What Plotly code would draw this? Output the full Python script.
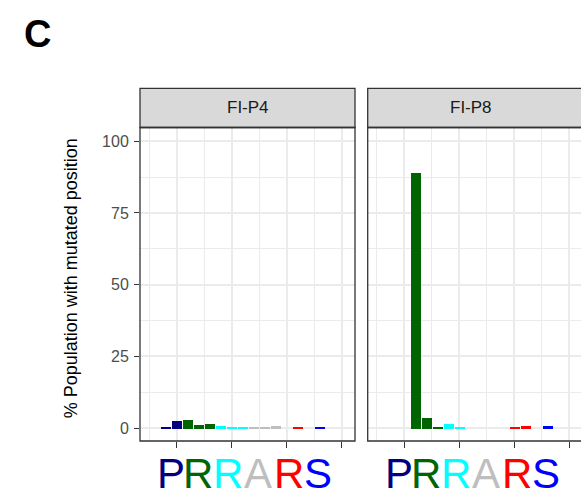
import plotly.graph_objects as go

# ---- data -------------------------------------------------------------
positions = list(range(1, 17))
pos_colors = (["#000080"] * 2 + ["#006400"] * 3 + ["#00FFFF"] * 3 +
              ["#BEBEBE"] * 3 + ["#FF0000"] * 2 + ["#0000FF"] * 3)

panels = ["FI-P4", "FI-P8"]
pct_p4 = [0.35, 2.55, 2.9, 1.4, 1.75, 1.05, 0.7, 0.35, 0.35, 0.35, 1.05, 0, 0.45, 0, 0.45, 0]
pct_p8 = [0, 0, 89.2, 3.7, 0.6, 1.7, 0.35, 0, 0, 0, 0, 0.4, 1.0, 0, 1.0, 0]

logo_letters = ["P", "R", "R", "A", "R", "S"]
logo_colors = ["#000080", "#006400", "#00FFFF", "#BEBEBE", "#FF0000", "#0000FF"]
logo_pos = [1.5, 3.95, 6.65, 9.4, 12.2, 14.85]

y_ticks = [0, 25, 50, 75, 100]
x_ticks = [2, 7, 12, 17]

# ---- geometry (pixels) ------------------------------------------------
W, H = 581, 498
px = lambda v: v / W
py = lambda v: 1 - v / H
FONT = "Arial, Liberation Sans, sans-serif"
GRID = "#EBEBEB"
DARK = "#333333"

panel_x = [(140, 355), (367.7, 581)]
plot_top, plot_bot = 127.5, 441
strip_top = 88.3

fig = go.Figure()
series = [pct_p4, pct_p8]
for i, vals in enumerate(series):
    fig.add_trace(go.Bar(
        x=positions, y=vals, width=0.9,
        marker=dict(color=pos_colors, line=dict(width=0)),
        xaxis="x" if i == 0 else "x2",
        yaxis="y" if i == 0 else "y2",
        showlegend=False, hoverinfo="x+y",
    ))

xcommon = dict(
    range=[-1.34, 18.2], tickvals=x_ticks, ticks="outside", ticklen=6,
    tickwidth=1.1, tickcolor=DARK, showticklabels=False,
    showgrid=True, gridcolor=GRID, gridwidth=1.5, zeroline=False,
    showline=False, fixedrange=True,
    minor=dict(tickvals=[-0.5, 4.5, 9.5, 14.5], showgrid=True,
               gridcolor=GRID, gridwidth=0.8, ticks=""),
)
ycommon = dict(
    range=[-4.5, 104.8], tickvals=y_ticks, showgrid=True, gridcolor=GRID,
    gridwidth=1.5, zeroline=False, showline=False, fixedrange=True,
    minor=dict(tickvals=[12.5, 37.5, 62.5, 87.5], showgrid=True,
               gridcolor=GRID, gridwidth=0.8, ticks=""),
    domain=[py(plot_bot), py(plot_top)],
)

fig.update_layout(
    width=W, height=H, margin=dict(l=0, r=0, t=0, b=0),
    paper_bgcolor="white", plot_bgcolor="white",
    bargap=0,
    xaxis=dict(xcommon, domain=[px(panel_x[0][0]), px(panel_x[0][1])], anchor="y"),
    xaxis2=dict(xcommon, range=[-1.34, 18.05],
                domain=[px(panel_x[1][0]), 1], anchor="y2"),
    yaxis=dict(ycommon, anchor="x", ticks="outside", ticklen=5, tickwidth=1.1,
               tickcolor=DARK, ticklabelstandoff=2,
               tickfont=dict(family=FONT, size=16, color="#4D4D4D")),
    yaxis2=dict(ycommon, anchor="x2", showticklabels=False, ticks=""),
)

shapes = []
annotations = []
for i, (x0, x1) in enumerate(panel_x):
    x1e = x1 if i == 0 else W + 5
    # strip
    shapes.append(dict(type="rect", xref="paper", yref="paper",
                       x0=px(x0), x1=px(x1e), y0=py(plot_top), y1=py(strip_top),
                       fillcolor="#D9D9D9", line=dict(color=DARK, width=1.3),
                       layer="above"))
    # panel border
    shapes.append(dict(type="rect", xref="paper", yref="paper",
                       x0=px(x0), x1=px(x1e), y0=py(plot_bot), y1=py(plot_top),
                       fillcolor="rgba(0,0,0,0)", line=dict(color=DARK, width=1.3),
                       layer="above"))
    cx = (x0 + x1) / 2 if i == 0 else 471
    annotations.append(dict(text=panels[i], xref="paper", yref="paper",
                            x=px(cx), y=py((strip_top + plot_top) / 2),
                            showarrow=False, xanchor="center", yanchor="middle",
                            font=dict(family=FONT, size=17, color="#1A1A1A")))
    # sequence letters under each panel
    for letter, col, xp in zip(logo_letters, logo_colors, logo_pos):
        annotations.append(dict(text=letter, xref="x" if i == 0 else "x2",
                                yref="paper", x=xp, y=0, borderpad=0,
                                showarrow=False, xanchor="center", yanchor="bottom",
                                font=dict(family=FONT, size=42, color=col)))

annotations.append(dict(text="% Population with mutated position", xref="paper",
                        yref="paper", x=px(71), y=py(278.3), textangle=-90,
                        showarrow=False, xanchor="center", yanchor="middle",
                        font=dict(family=FONT, size=18, color="black")))
annotations.append(dict(text="<b>C</b>", xref="paper", yref="paper",
                        x=px(37), y=py(33.7), showarrow=False,
                        xanchor="center", yanchor="middle",
                        font=dict(family=FONT, size=38, color="black")))

fig.update_layout(shapes=shapes, annotations=annotations)
fig.write_html("out.html")
